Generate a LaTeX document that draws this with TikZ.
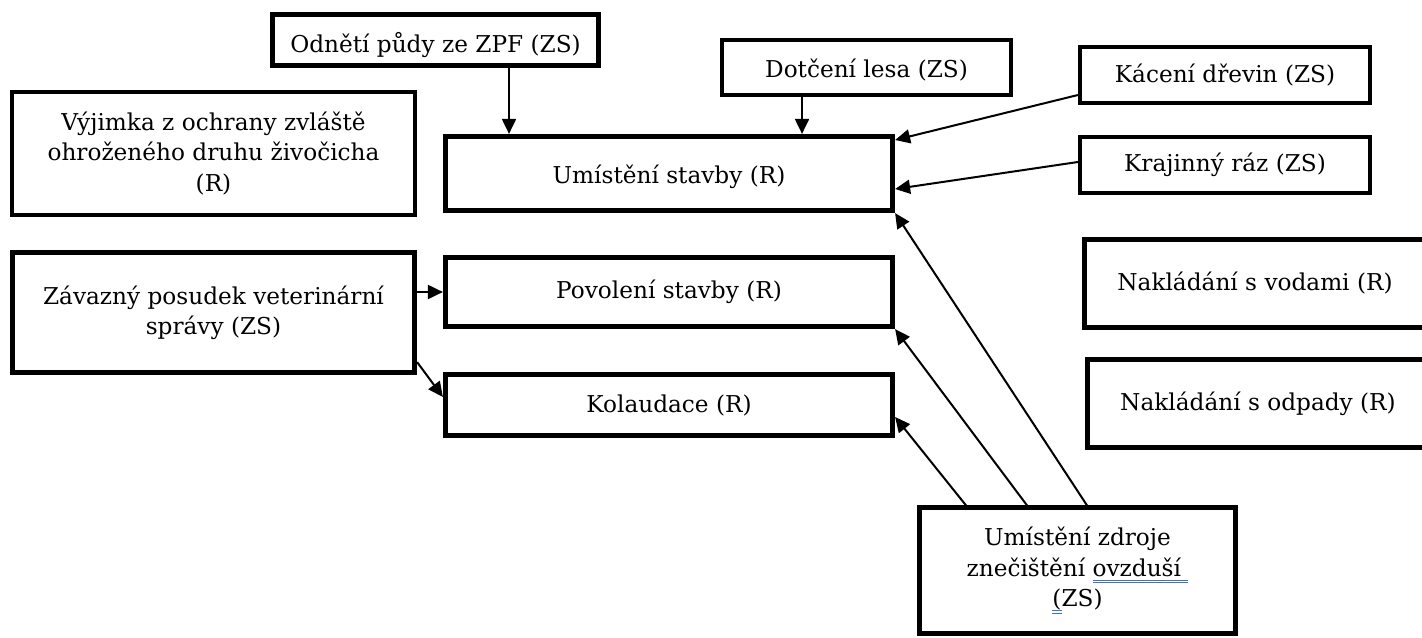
\documentclass[tikz,border=0pt]{standalone}
\usepackage{fontspec}
\setmainfont{DejaVu Serif}
\usetikzlibrary{arrows.meta,calc}
\definecolor{ulblue}{RGB}{60,110,225}
\newcommand\spellu[1]{\setbox0\hbox{#1}\rlap{\textcolor{ulblue}{\rule[-2.4pt]{\wd0}{0.55pt}}}\rlap{\textcolor{ulblue}{\rule[-3.6pt]{\wd0}{0.55pt}}}\box0}
\begin{document}
\begin{tikzpicture}[x=0.5pt,y=-0.5pt,
  box/.style={draw, line width=2.6pt, inner sep=0pt, align=center, font=\fontsize{11.6}{15.2}\selectfont},
  lbox/.style={box, line width=2.1pt},
  arr/.style={line width=1pt, -{Triangle[length=7.5pt,width=7pt]}}]
\useasboundingbox (0,0) rectangle (1422,637);
\clip (0,0) rectangle (1422,637);

\node[box, minimum width=163pt, minimum height=25.5pt] (odn) at (435.5,40) {\raisebox{-2.5pt}[\height][\depth]{Odnětí půdy ze ZPF (ZS)}};
\node[lbox, minimum width=144.5pt, minimum height=27.5pt] (dot) at (866.5,67.5) {\raisebox{-1.5pt}[\height][\depth]{Dotčení lesa (ZS)}};
\node[lbox, minimum width=145pt, minimum height=28pt] (kac) at (1225,75) {Kácení dřevin (ZS)};
\node[lbox, minimum width=145pt, minimum height=28pt] (kra) at (1225,165) {Krajinný ráz (ZS)};
\node[lbox, minimum width=201.5pt, minimum height=61.5pt] (vyj) at (213.5,153.5) {Výjimka z ochrany zvláště\\ohroženého druhu živočicha\\(R)};
\node[box, minimum width=223.5pt, minimum height=37pt] (ums) at (669,173.5) {\raisebox{-1.5pt}[\height][\depth]{Umístění stavby (R)}};
\node[box, minimum width=201pt, minimum height=60pt] (zav) at (213.5,312.5) {Závazný posudek veterinární\\správy (ZS)};
\node[box, minimum width=223.5pt, minimum height=34.5pt] (pov) at (669,292) {Povolení stavby (R)};
\node[box, minimum width=223.5pt, minimum height=30.5pt] (kol) at (669,405) {Kolaudace (R)};
\node[box, minimum width=170.5pt, minimum height=44pt] (vod) at (1255,283.5) {Nakládání s vodami (R)};
\node[box, minimum width=170.5pt, minimum height=44pt] (odp) at (1258,403.5) {Nakládání s odpady (R)};
\node[lbox, minimum width=158pt, minimum height=63pt] (zdr) at (1077.5,570.5) {Umístění zdroje\\znečištění \spellu{ovzduší\ }\\\spellu{(}ZS)};

\draw[arr] ([xshift=36.75pt]odn.south) -- ([xshift=36.75pt]odn.south |- ums.north);
\draw[arr] ([xshift=-32.25pt]dot.south) -- ([xshift=-32.25pt]dot.south |- ums.north);
\draw[arr] ([yshift=-10pt]kac.west) -- ([yshift=16.75pt]ums.east);
\draw[arr] ([yshift=1.5pt]kra.west) -- ([yshift=-7.75pt]ums.east);
\draw[arr] ([xshift=4.75pt]zdr.north) -- (ums.south east);
\draw[arr] ([xshift=-25.25pt]zdr.north) -- (pov.south east);
\draw[arr] ([xshift=-55.75pt]zdr.north) -- ([yshift=-6pt]kol.east);
\draw[arr] (zav.east |- pov.west) -- (pov.west);
\draw[arr] ([yshift=6.5pt]zav.south east) -- ([yshift=4pt]kol.west);
\end{tikzpicture}
\end{document}
